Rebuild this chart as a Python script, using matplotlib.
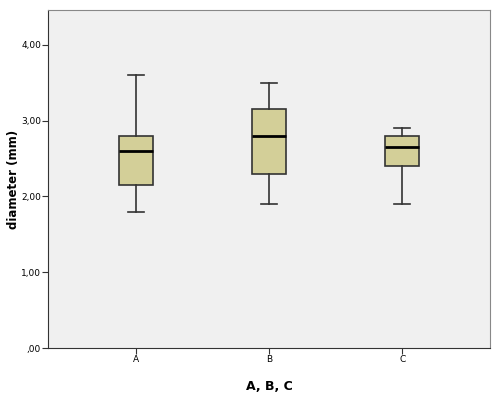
import matplotlib.pyplot as plt
from matplotlib.ticker import FuncFormatter

groups = ["A", "B", "C"]
whislo = [1.8, 1.9, 1.9]
q1 = [2.15, 2.3, 2.4]
med = [2.6, 2.8, 2.65]
q3 = [2.8, 3.15, 2.8]
whishi = [3.6, 3.5, 2.9]

stats = []
for i in range(len(groups)):
    stats.append({"label": groups[i], "whislo": whislo[i], "q1": q1[i], "med": med[i],
                  "q3": q3[i], "whishi": whishi[i], "fliers": []})

fig = plt.figure(figsize=(5, 3.97), dpi=100)
fig.patch.set_facecolor("white")
ax = fig.add_axes([0.096, 0.1234, 0.884, 0.8516])
ax.set_facecolor("#f0f0f0")

ax.bxp(stats, positions=[1, 2, 3], widths=0.25, patch_artist=True,
       boxprops=dict(facecolor="#d3cf98", edgecolor="#333333", linewidth=1.2),
       medianprops=dict(color="black", linewidth=2),
       whiskerprops=dict(color="#333333", linewidth=1.2),
       capprops=dict(color="#333333", linewidth=1.2),
       capwidths=0.12)

ax.set_xlim(0.34, 3.66)
ax.set_ylim(0, 4.46)
ax.set_yticks([0, 1, 2, 3, 4])
ax.yaxis.set_major_formatter(FuncFormatter(lambda v, p: ",00" if v == 0 else ("%.2f" % v).replace(".", ",")))
ax.tick_params(labelsize=6.5, length=4, pad=1, color="#333333")

for s in ["left", "bottom"]:
    ax.spines[s].set_color("#333333")
for s in ["top", "right"]:
    ax.spines[s].set_color("#888888")

ax.set_xlabel("A, B, C", fontsize=9, fontweight="bold")
ax.set_ylabel("diameter (mm)", fontsize=8.5, fontweight="bold")
ax.xaxis.set_label_coords(0.5, -0.095)
ax.yaxis.set_label_coords(-0.064, 0.5)

fig.savefig("out.png", dpi=100)
